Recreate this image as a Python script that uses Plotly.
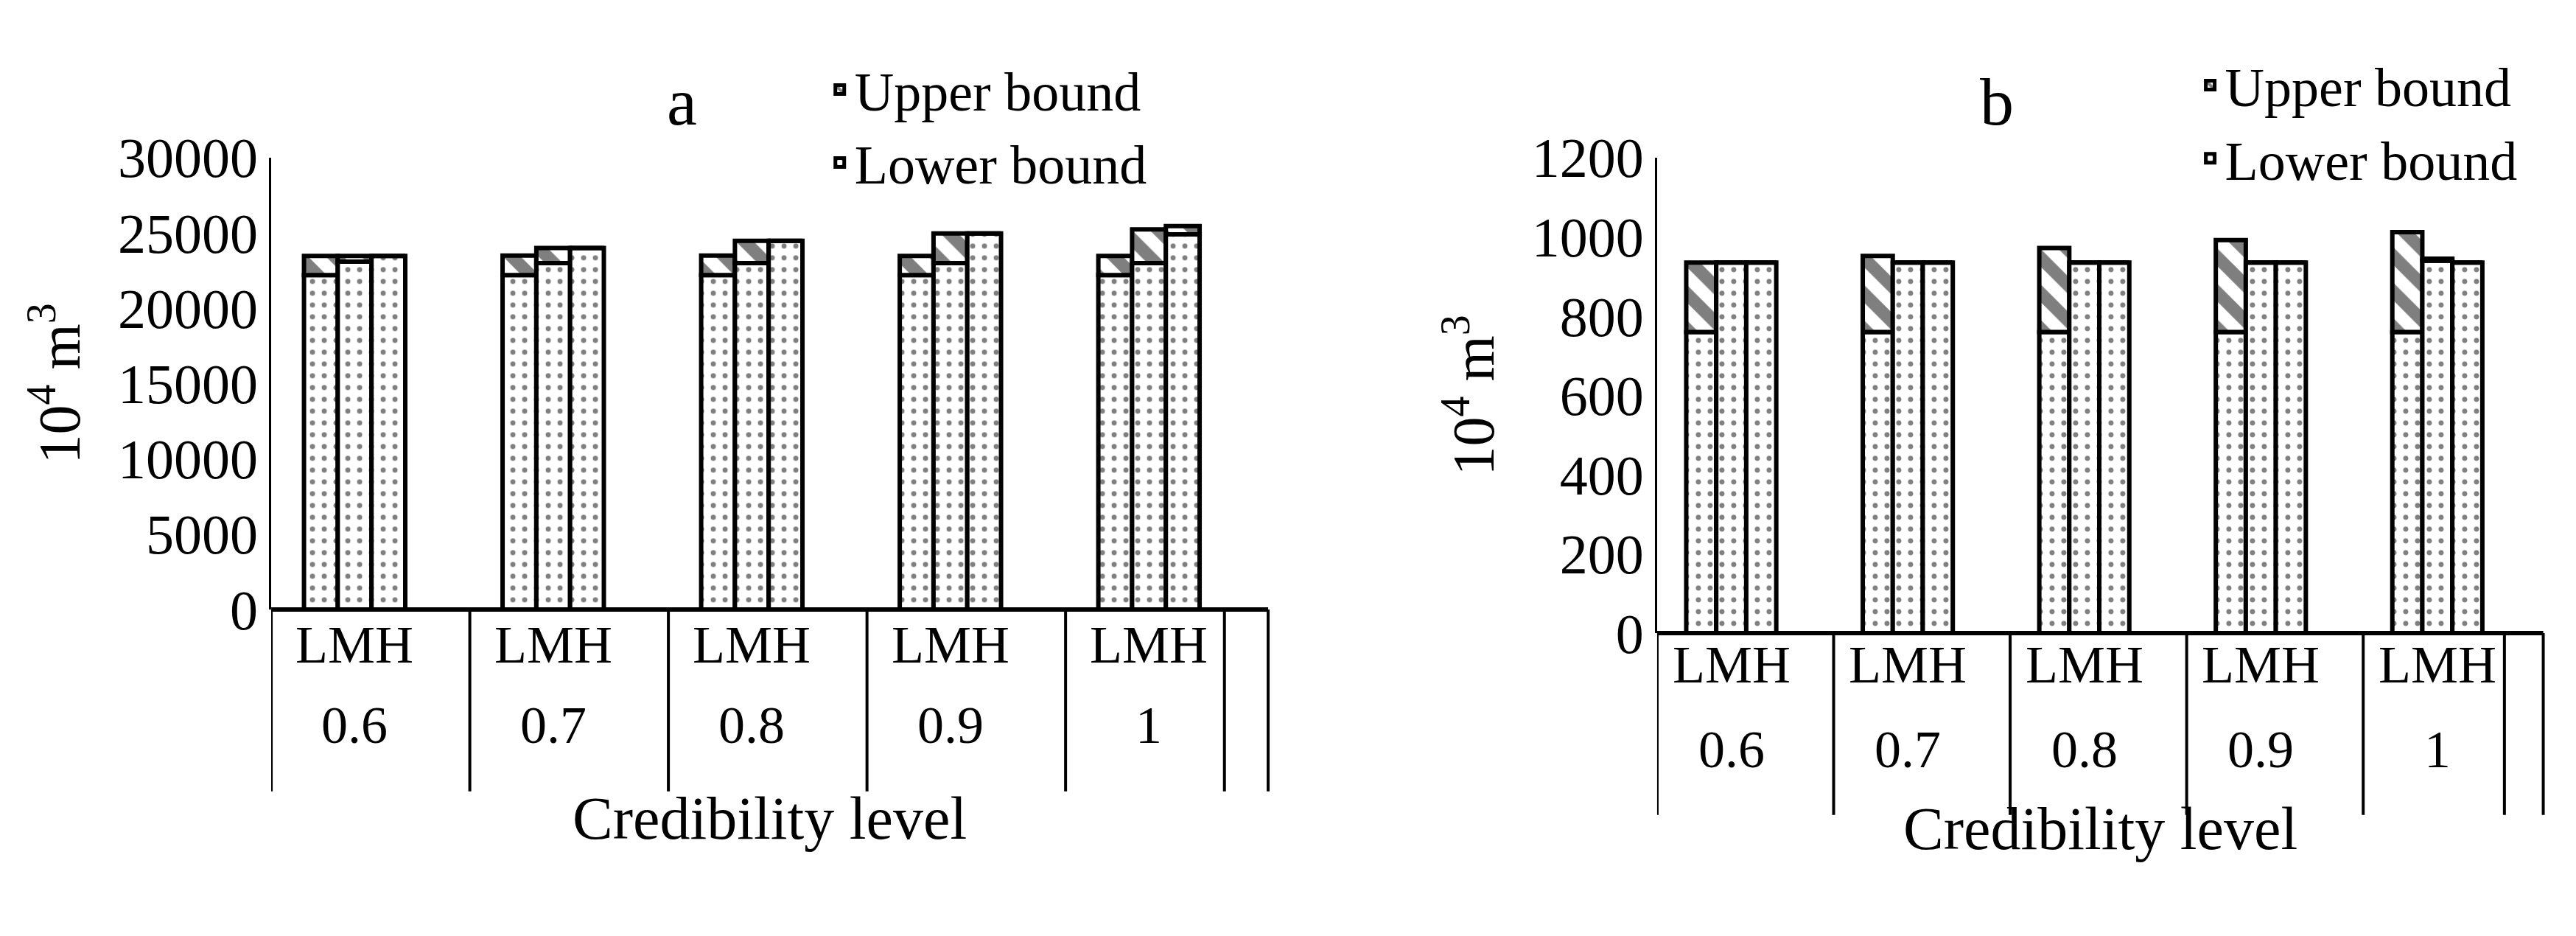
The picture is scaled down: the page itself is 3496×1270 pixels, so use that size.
import plotly.graph_objects as go

levels = ["0.6", "0.7", "0.8", "0.9", "1"]
scen = ["L", "M", "H"]
# chart a
a_lower = {"L": [22200, 22200, 22200, 22200, 22200],
           "M": [23100, 23000, 23000, 23000, 23000],
           "H": [23470, 24000, 24480, 24970, 24900]}
a_upper = {"L": [23470, 23500, 23500, 23470, 23470],
           "M": [23470, 24000, 24480, 24970, 25230],
           "H": [23470, 24000, 24480, 24970, 25450]}
# chart b
b_lower = {"L": [760, 760, 760, 760, 760],
           "M": [935, 935, 935, 935, 940],
           "H": [935, 935, 935, 935, 935]}
b_upper = {"L": [935, 952, 972, 992, 1012],
           "M": [935, 935, 935, 935, 945],
           "H": [935, 935, 935, 935, 935]}

FONT = "Liberation Serif"
fig = go.Figure()
W = 0.17
shift = {"L": -W, "M": 0, "H": W}
center = -0.08

def add(lower, upper, xa, ya, leg):
    for k, s in enumerate(scen):
        xs = [i + center + shift[s] for i in range(len(levels))]
        fig.add_bar(x=xs, y=lower[s], width=W, xaxis=xa, yaxis=ya, legend=leg,
                    name="Lower bound", showlegend=(k == 0), legendrank=2,
                    marker=dict(color="white", line=dict(color="black", width=6),
                                pattern=dict(shape=".", fgcolor="black", size=16, solidity=0.15)))
        fig.add_bar(x=xs, y=[u - l for u, l in zip(upper[s], lower[s])], base=lower[s], width=W,
                    xaxis=xa, yaxis=ya, legend=leg, name="Upper bound", showlegend=(k == 0), legendrank=1,
                    marker=dict(color="white", line=dict(color="black", width=6),
                                pattern=dict(shape="\\", fgcolor="black", size=34, solidity=0.5)))

add(a_lower, a_upper, "x", "y", "legend")
add(b_lower, b_upper, "x2", "y2", "legend2")

ax = dict(range=[-0.5, 4.52], showticklabels=False, showgrid=False, zeroline=False,
          showline=False, ticks="")
fig.update_layout(
    width=3496, height=1270, paper_bgcolor="white", plot_bgcolor="white",
    margin=dict(l=0, r=0, t=0, b=0), barmode="overlay",
    font=dict(family=FONT, size=76, color="black"),
    xaxis=dict(domain=[0.103, 0.49], **ax),
    xaxis2=dict(domain=[0.641, 0.985], **ax),
    yaxis=dict(domain=[0.344, 0.861], range=[0, 30000], dtick=5000, tickformat="d", showgrid=False,
               showline=True, linecolor="black", linewidth=3, ticks="", anchor="x",
               title=dict(text="10<sup>4</sup> m<sup>3</sup>", font=dict(size=80), standoff=25)),
    yaxis2=dict(domain=[0.317, 0.861], range=[0, 1200], dtick=200, tickformat="d", showgrid=False,
                showline=True, linecolor="black", linewidth=3, ticks="", anchor="x2",
                title=dict(text="10<sup>4</sup> m<sup>3</sup>", font=dict(size=80), standoff=25)),
    legend=dict(x=0.318, y=0.985, xanchor="left", yanchor="top", font=dict(size=74),
                bgcolor="rgba(0,0,0,0)", traceorder="normal", itemwidth=30, tracegroupgap=0),
    legend2=dict(x=0.85, y=0.99, xanchor="left", yanchor="top", font=dict(size=74),
                 bgcolor="rgba(0,0,0,0)", traceorder="normal", itemwidth=30, tracegroupgap=0),
    showlegend=True,
)

def table(xr, y0p, lmh_y, lev_y, bot, title_y, panel, ptitle_x):
    divs = [-0.5, 0.5, 1.5, 2.5, 3.5, 4.3]
    for d in divs:
        fig.add_shape(type="line", xref=xr, yref="paper", x0=d, x1=d, y0=y0p, y1=bot,
                      line=dict(color="black", width=4))
    fig.add_shape(type="line", xref=xr + " domain", yref="paper", x0=0, x1=1, y0=y0p, y1=y0p,
                  line=dict(color="black", width=6))
    fig.add_shape(type="line", xref=xr + " domain", yref="paper", x0=1, x1=1, y0=y0p, y1=bot,
                  line=dict(color="black", width=4))
    for i, lv in enumerate(levels):
        fig.add_annotation(x=i + center, xref=xr, y=lmh_y, yref="paper", text="LMH",
                           showarrow=False, font=dict(size=72))
        fig.add_annotation(x=i + center, xref=xr, y=lev_y, yref="paper", text=lv,
                           showarrow=False, font=dict(size=72))
    fig.add_annotation(x=0.5, xref=xr + " domain", y=title_y, yref="paper",
                       text="Credibility level", showarrow=False, font=dict(size=82))
    fig.add_annotation(x=ptitle_x, xref="paper", y=0.97, yref="paper", text=panel,
                       showarrow=False, font=dict(size=92))

table("x", 0.344, 0.268, 0.176, 0.136, 0.065, "a", 0.256)
table("x2", 0.317, 0.245, 0.148, 0.109, 0.053, "b", 0.78)

fig.write_html("out.html")
